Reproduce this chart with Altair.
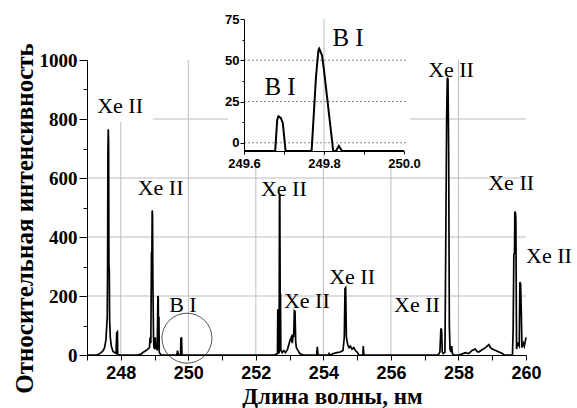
import altair as alt
import pandas as pd

# ---------------- main spectrum ----------------
spec_x = [247.0, 247.3, 247.35, 247.42, 247.48, 247.52, 247.56, 247.58, 247.6, 247.61,
          247.62, 247.63, 247.64, 247.65, 247.66, 247.67, 247.69, 247.72, 247.77, 247.82,
          247.86, 247.88, 247.9, 247.91, 247.93, 247.96,
          248.5, 248.6, 248.65, 248.7, 248.75, 248.8, 248.85, 248.87, 248.89, 248.91,
          248.92, 248.93, 248.94, 248.95, 248.97, 248.98, 249.0, 249.02, 249.04, 249.06,
          249.08, 249.1, 249.11, 249.12, 249.13, 249.14, 249.16, 249.2,
          249.6, 249.65, 249.67, 249.68, 249.7, 249.72, 249.77, 249.78, 249.8, 249.81, 249.83,
          252.55, 252.6, 252.64, 252.65, 252.66, 252.67, 252.69, 252.7, 252.71, 252.72,
          252.73, 252.74, 252.78, 252.82, 252.88, 252.94, 253.0, 253.05, 253.08, 253.1,
          253.12, 253.14, 253.16, 253.18, 253.2, 253.25, 253.3, 253.36, 253.4,
          253.8, 253.82, 253.84,
          254.15, 254.17, 254.2, 254.3, 254.4, 254.5, 254.58, 254.62, 254.64, 254.66,
          254.68, 254.72, 254.76, 254.8, 254.85, 254.9, 254.95, 255.0, 255.05,
          255.17, 255.18, 255.2,
          257.4, 257.45, 257.48, 257.5, 257.52, 257.55, 257.6, 257.62, 257.65, 257.67,
          257.69, 257.71, 257.73, 257.75, 257.78, 257.8, 257.82, 257.86,
          258.0, 258.1, 258.2, 258.3, 258.4, 258.5, 258.55, 258.6, 258.7, 258.8,
          258.85, 258.9, 258.95, 259.0, 259.1, 259.2, 259.3, 259.35,
          259.55, 259.6, 259.62, 259.64, 259.66, 259.67, 259.69, 259.7, 259.72, 259.75,
          259.8, 259.82, 259.84, 259.86, 259.88, 259.92, 259.95, 260.0]
spec_y = [0, 0, 3, 8, 15, 25, 50, 90, 130, 300,
          700, 765, 720, 300, 290, 120, 60, 30, 12, 8,
          5, 75, 78, 5, 2, 0,
          0, 3, 8, 12, 15, 20, 25, 60, 40, 350,
          300, 490, 480, 260, 60, 30, 20, 60, 20, 40,
          15, 200, 195, 20, 130, 10, 5, 0,
          0, 0, 5, 15, 3, 0, 0, 55, 60, 5, 0,
          0, 2, 5, 155, 150, 5, 10, 540, 545, 210,
          205, 15, 8, 15, 8, 20, 45, 60, 40, 70,
          60, 150, 148, 45, 25, 15, 5, 2, 0,
          0, 28, 0,
          0, 5, 0, 5, 8, 10, 15, 60, 225, 228,
          62, 35, 25, 30, 20, 25, 15, 10, 0,
          0, 30, 0,
          0, 10, 90, 85, 10, 5, 10, 310, 800, 940,
          935, 690, 100, 20, 10, 30, 5, 0,
          0, 3, 8, 5, 15, 20, 12, 10, 18, 25,
          30, 35, 25, 20, 15, 10, 5, 0,
          0, 0, 90, 340, 345, 486, 480, 455, 20, 40,
          30, 247, 240, 150, 25, 40, 30, 60]

# ---------------- inset spectrum ----------------
inset_x = [249.6, 249.67, 249.678, 249.683, 249.686, 249.692, 249.697, 249.704, 249.71,
           249.76, 249.769, 249.78, 249.786, 249.788, 249.795, 249.8, 249.823, 249.83,
           249.837, 249.845, 249.9, 250.0]
inset_y = [-5, -5, -5, 14, 16, 15, 12, -5, -5,
           -5, -5, 40, 56, 57, 53, 44, -5, -5,
           -2, -5, -5, -5]

# labels
lab_text = ["Xe II", "Xe II", "B I", "Xe II", "Xe II", "Xe II", "Xe II", "Xe II", "Xe II", "Xe II"]
lab_x = [247.98, 249.18, 249.84, 252.83, 253.51, 254.85, 256.77, 257.78, 259.56, 260.68]
lab_y = [844, 566, 169, 563, 184, 265, 169, 966, 583, 336]

ilab_text = ["B I", "B I"]
ilab_x = [249.86, 249.69]
ilab_y = [63.4, 33.5]

# grid
vgrid_x = [248, 250, 252, 254, 256, 258]
vgrid_top = [790, 1000, 1000, 1000, 1000, 1000]
hgrid_y = [200, 400, 600, 800]
hgrid_x0 = [247, 247, 247, 248.95]

circle_x = [249.96]
circle_y = [57]

igrid_y = [0, 25, 50]

SERIF = "Liberation Serif"
SANS = "Liberation Sans"

XS = alt.Scale(domain=[247, 260], nice=False, zero=False)
YS = alt.Scale(domain=[0, 1000], nice=False)
XIS = alt.Scale(domain=[249.6, 250.0], range=[157, 317], nice=False, zero=False)
YIS = alt.Scale(domain=[-5, 75], range=[91, -41], nice=False, zero=False)

main_xaxis = alt.Axis(
    orient="bottom", zindex=1,
    values=list(range(247, 261)), format="d",
    labelExpr="datum.value % 2 == 0 ? datum.label : ''",
    grid=False, tickSize=5, tickColor="black", domainColor="black",
    labelFont=SANS, labelFontWeight="bold", labelFontSize=18, labelColor="black",
    labelPadding=4, labelFlush=False, labelOverlap=False,
    title="Длина волны, нм", titleFont=SERIF, titleFontWeight="bold", titleFontSize=23,
    titleColor="black", titleX=245, titleY=48, titleAlign="center", titleBaseline="alphabetic",
)
main_yaxis = alt.Axis(
    orient="left", zindex=1,
    values=list(range(0, 1001, 100)), format="d",
    labelExpr="datum.value % 200 == 0 ? datum.label : ''",
    grid=False,
    tickSize={"condition": {"test": "datum.value % 200 == 0", "value": 8}, "value": 4},
    tickColor="black", domainColor="black",
    labelFont=SERIF, labelFontWeight="bold", labelFontSize=19, labelColor="black",
    labelPadding=2, labelFlush=False, labelOverlap=False,
    title="Относительная интенсивность", titleFont=SERIF, titleFontWeight="bold",
    titleFontSize=25, titleColor="black", titleAngle=270, titleX=-55, titleY=158,
    titleAlign="center", titleBaseline="alphabetic",
)
inset_xaxis = alt.Axis(
    orient="bottom", offset=-204, zindex=1,
    values=[249.6, 249.7, 249.8, 249.9, 250.0],
    labelExpr="round(datum.value * 10) % 2 == 0 ? format(datum.value, '.1f') : ''",
    grid=False, tickSize=3, tickColor="black", domainColor="black",
    labelFont=SANS, labelFontWeight="bold", labelFontSize=13, labelColor="black",
    labelPadding=3, labelFlush=False, labelOverlap=False, title="",
)
inset_yaxis = alt.Axis(
    orient="left", offset=-157, zindex=1,
    values=[0, 12.5, 25, 37.5, 50, 62.5, 75], format="d",
    labelExpr="datum.value % 25 == 0 ? datum.label : ''",
    grid=False,
    tickSize={"condition": {"test": "datum.value % 25 == 0", "value": 4}, "value": 2},
    tickColor="black", domainColor="black",
    labelFont=SANS, labelFontWeight="bold", labelFontSize=13, labelColor="black",
    labelPadding=1, labelFlush=False, labelOverlap=False, title="",
)


def MX(f):
    return alt.X(f, type="quantitative", scale=XS, axis=main_xaxis)


def MY(f):
    return alt.Y(f, type="quantitative", scale=YS, axis=main_yaxis)


def IX(f):
    return alt.X(f, type="quantitative", scale=XIS, axis=inset_xaxis)


def IY(f):
    return alt.Y(f, type="quantitative", scale=YIS, axis=inset_yaxis)


spec = pd.DataFrame({"x": spec_x, "y": spec_y})
vgrid = pd.DataFrame({"x": vgrid_x, "y": [0] * len(vgrid_x), "y1": vgrid_top})
hgrid = pd.DataFrame({"y": hgrid_y, "x": hgrid_x0, "x1": [260] * len(hgrid_y)})
labs = pd.DataFrame({"x": lab_x, "y": lab_y, "t": lab_text})
circ = pd.DataFrame({"x": circle_x, "y": circle_y})

grid_color = "#bdbdbd"

vg = alt.Chart(vgrid).mark_rule(color=grid_color, strokeWidth=1).encode(
    x=MX("x"), y=MY("y"), y2="y1:Q")
hg = alt.Chart(hgrid).mark_rule(color=grid_color, strokeWidth=1).encode(
    y=MY("y"), x=MX("x"), x2="x1:Q")
line = alt.Chart(spec).mark_line(color="black", strokeWidth=1.7, interpolate="linear").encode(
    x=MX("x"), y=MY("y"))
circle = alt.Chart(circ).mark_point(shape="circle", size=2500, filled=False,
                                    color="#555555", strokeWidth=1, opacity=1).encode(
    x=MX("x"), y=MY("y"))
text = alt.Chart(labs).mark_text(font=SERIF, fontSize=22, color="black",
                                 align="center", baseline="middle").encode(
    x=MX("x"), y=MY("y"), text="t:N")

main_layer = alt.layer(vg, hg, line, circle, text)

# ---------------- inset ----------------
ispec = pd.DataFrame({"x": inset_x, "y": inset_y})
ibox = pd.DataFrame({"x": [249.56], "x1": [250.015], "y": [-14], "y1": [83.5]})
igrid = pd.DataFrame({"y": igrid_y, "x": [249.6] * 3, "x1": [250.01] * 3})
ivgrid = pd.DataFrame({"x": [249.8], "y": [-14], "y1": [75]})
ilabs = pd.DataFrame({"x": ilab_x, "y": ilab_y, "t": ilab_text})

box = alt.Chart(ibox).mark_rect(color="white", opacity=1).encode(
    x=IX("x"), x2="x1:Q", y=IY("y"), y2="y1:Q")
ig = alt.Chart(igrid).mark_rule(color="#8a8a8a", strokeWidth=1, strokeDash=[2, 2]).encode(
    y=IY("y"), x=IX("x"), x2="x1:Q")
ivg = alt.Chart(ivgrid).mark_rule(color=grid_color, strokeWidth=1).encode(
    x=IX("x"), y=IY("y"), y2="y1:Q")
iline = alt.Chart(ispec).mark_line(color="black", strokeWidth=2).encode(
    x=IX("x"), y=IY("y"))
itext = alt.Chart(ilabs).mark_text(font=SERIF, fontSize=25, color="black",
                                   align="center", baseline="middle").encode(
    x=IX("x"), y=IY("y"), text="t:N")

inset_layer = alt.layer(box, ig, ivg, iline, itext)

chart = alt.layer(main_layer, inset_layer).resolve_scale(
    x="independent", y="independent").resolve_axis(x="independent", y="independent").properties(
    width=439, height=295,
    autosize=alt.AutoSizeParams(type="none"),
    padding={"left": 87, "top": 60, "right": 51, "bottom": 53},
    background="white",
).configure_view(strokeWidth=0)

chart.save("out.html", embed_options={"renderer": "svg", "actions": False})
